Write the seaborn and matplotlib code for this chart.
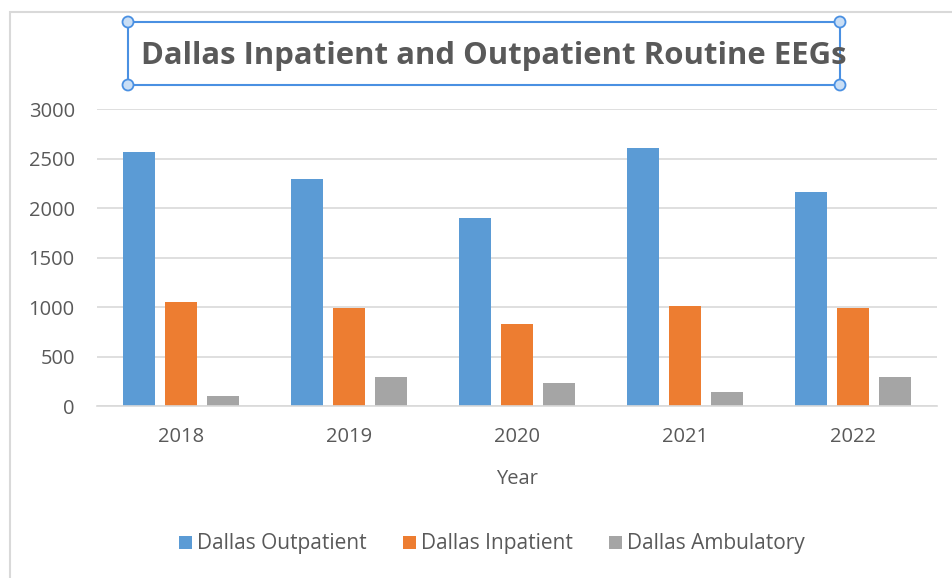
import pandas as pd
import numpy as np
import matplotlib
matplotlib.use('Agg')
import matplotlib.pyplot as plt
from matplotlib.patches import Rectangle, Circle, Patch
import seaborn as sns

# Chart values
years = ['2018', '2019', '2020', '2021', '2022']
outpatient = [2570, 2300, 1900, 2605, 2160]
inpatient = [1050, 990, 830, 1010, 990]
ambulatory = [105, 290, 230, 145, 290]
series_names = ['Dallas Outpatient', 'Dallas Inpatient', 'Dallas Ambulatory']
colors = ['#5B9BD5', '#ED7D31', '#A5A5A5']

# long format for seaborn
df = pd.DataFrame({
    'Year': years * 3,
    'Count': outpatient + inpatient + ambulatory,
    'Series': [s for s in series_names for _ in years],
})

sns.set_theme(style='white')
plt.rcParams['font.family'] = ['Open Sans', 'DejaVu Sans']
text_color = '#595959'

W, H = 952, 578
fig = plt.figure(figsize=(W / 100, H / 100), dpi=100)
ax = fig.add_axes([97 / W, 1 - 406 / H, 840 / W, 296.7 / H])

sns.barplot(data=df, x='Year', y='Count', hue='Series', palette=colors,
            width=0.745, gap=0.23, saturation=1, linewidth=0,
            legend=False, ax=ax)

ax.set_ylim(0, 3000)
ax.set_yticks(np.arange(0, 3001, 500))
ax.grid(axis='y', color='#D9D9D9', linewidth=1.2)
ax.set_axisbelow(True)
for side in ['top', 'right', 'left']:
    ax.spines[side].set_visible(False)
ax.spines['bottom'].set_color('#D9D9D9')
ax.spines['bottom'].set_linewidth(1.2)
ax.tick_params(axis='both', length=0, labelsize=14.5, colors=text_color)
ax.tick_params(axis='y', pad=16)
ax.tick_params(axis='x', pad=15)
ax.set_ylabel('')
ax.set_xlabel('Year', fontsize=14.5, color=text_color, labelpad=16)

# title
fig.text(494 / W, 1 - 64 / H, 'Dallas Inpatient and Outpatient Routine EEGs',
         ha='center', va='baseline', fontsize=22.4, fontweight='bold',
         color=text_color)

# legend below the plot
handles = [Patch(facecolor=c, edgecolor='none') for c in colors]
fig.legend(handles, series_names, loc='center', ncol=3,
           bbox_to_anchor=(492 / W, 1 - 544 / H), frameon=False,
           fontsize=15, labelcolor=text_color, handlelength=0.6,
           handleheight=0.6, handletextpad=0.25, columnspacing=1.75)

# chart area border and selected-title box, in pixel-like inch units
tr = fig.dpi_scale_trans
def px(x, y):
    return (x / 100, (H - y) / 100)

fig.patches.append(Rectangle(px(10, 600), 9.6, (600 - 12) / 100, transform=tr,
                             fill=False, edgecolor='#D9D9D9', linewidth=1.5))
x0, y0, x1, y1 = 128, 22, 840, 85
fig.patches.append(Rectangle(px(x0, y1), (x1 - x0) / 100, (y1 - y0) / 100,
                             transform=tr, fill=False, edgecolor='#4A90E2',
                             linewidth=1.5))
for cx, cy in [(x0, y0), (x1, y0), (x0, y1), (x1, y1)]:
    fig.patches.append(Circle(px(cx, cy), 0.055, transform=tr,
                              facecolor='#C9DEF5', edgecolor='#4A90E2',
                              linewidth=1.3))

fig.savefig('out.png', dpi=100)
